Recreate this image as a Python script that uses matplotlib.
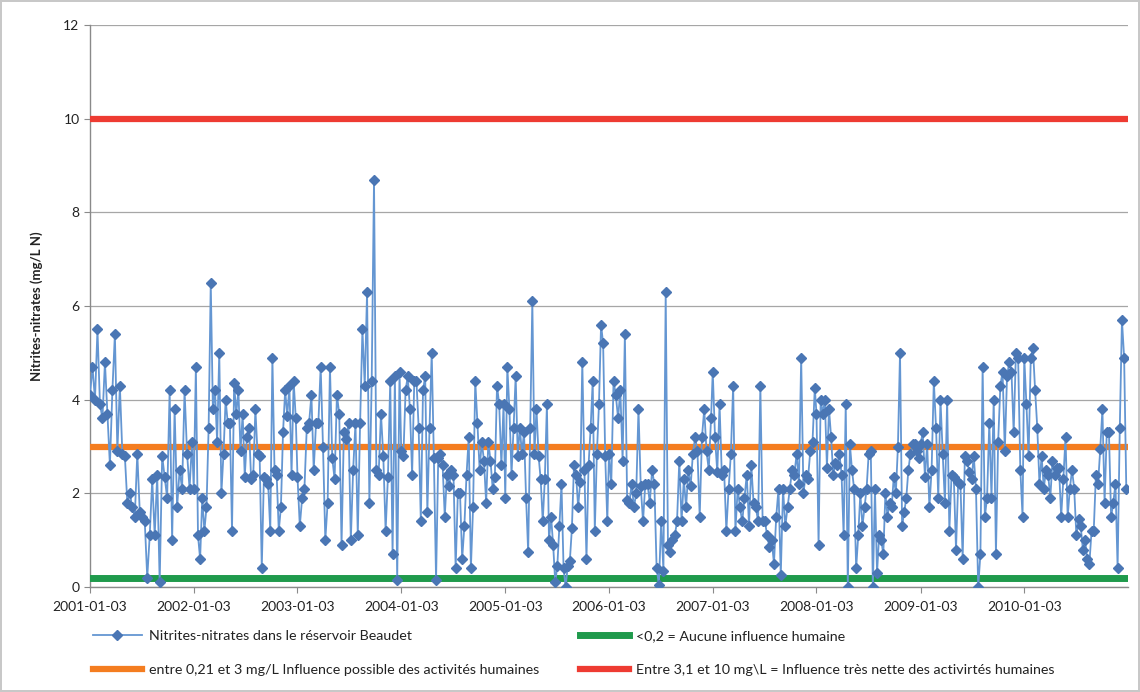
import matplotlib
matplotlib.use("Agg")
import matplotlib.pyplot as plt
from matplotlib.lines import Line2D
import pandas as pd

# Nitrites-nitrates readings (mg/L N), one list per year
nitrates_2001 = [4.1, 4.7, 4.0, 5.5, 3.9, 3.6, 4.8, 3.7, 2.6, 4.2, 5.4, 2.9, 4.3, 2.85,
                 2.8, 1.8, 2.0, 1.7, 1.5, 2.85, 1.6, 1.5, 1.4, 0.2, 1.1, 2.3, 1.1, 2.4,
                 0.1, 2.8, 2.35, 1.9, 4.2, 1.0, 3.8, 1.7, 2.5, 2.1, 4.2, 2.85, 2.1, 3.1]
nitrates_2002 = [2.1, 4.7, 1.1, 0.6, 1.9, 1.2, 1.7, 3.4, 6.5, 3.8, 4.2, 3.1, 5.0, 2.0,
                 2.85, 4.0, 3.5, 3.5, 1.2, 4.35, 3.7, 4.2, 2.9, 3.7, 2.35, 3.2, 3.4, 2.3,
                 2.4, 3.8, 2.85, 2.8, 0.4, 2.35, 2.3, 2.2, 1.2, 4.9, 2.5, 2.4, 1.2, 1.7,
                 3.3, 4.2, 3.65, 4.3, 2.4, 4.4, 3.6]
nitrates_2003 = [2.35, 1.3, 1.9, 2.1, 3.4, 3.5, 4.1, 2.5, 3.5, 3.5, 4.7, 3.0, 1.0, 1.8,
                 4.7, 2.75, 2.3, 4.1, 3.7, 0.9, 3.3, 3.15, 3.5, 1.0, 2.5, 3.5, 1.1, 3.5,
                 5.5, 4.3, 6.3, 1.8, 4.4, 8.7, 2.5, 2.4, 3.7, 2.8, 1.2, 2.35, 4.4, 0.7,
                 4.5, 0.15, 4.6]
nitrates_2004 = [2.9, 2.8, 4.2, 4.5, 3.8, 2.4, 4.4, 4.4, 3.4, 1.4, 4.2, 4.5, 1.6, 3.4,
                 5.0, 2.75, 0.15, 2.75, 2.85, 2.6, 1.5, 2.4, 2.15, 2.5, 2.4, 0.4, 2.0,
                 2.0, 0.6, 1.3, 2.4, 3.2, 0.4, 1.7, 4.4, 3.5, 2.5, 3.1, 2.7, 1.8, 3.1,
                 2.7, 2.1, 2.35, 4.3, 3.9, 2.6, 3.9]
nitrates_2005 = [1.9, 4.7, 3.8, 2.4, 3.4, 4.5, 2.8, 3.4, 2.85, 3.3, 1.9, 0.75, 3.4, 6.1,
                 2.85, 3.8, 2.8, 2.3, 1.4, 2.3, 3.9, 1.0, 1.5, 0.9, 0.1, 0.45, 1.3, 2.2,
                 0.4, 0.0, 0.45, 0.55, 1.25, 2.6, 2.4, 1.7, 2.25, 4.8, 2.5, 0.6, 2.6,
                 3.4, 4.4, 1.2, 2.85, 3.9, 5.6, 5.2, 2.8, 1.4]
nitrates_2006 = [2.85, 2.2, 4.4, 4.1, 3.6, 4.2, 2.7, 5.4, 1.85, 1.8, 2.2, 1.7, 2.0, 3.8,
                 2.15, 1.4, 2.2, 2.2, 1.8, 2.5, 2.2, 0.4, 0.05, 1.4, 0.35, 6.3, 0.9,
                 0.75, 1.0, 1.1, 1.4, 2.7, 1.4, 2.3, 1.7, 2.5, 2.15, 2.85, 3.2, 2.9,
                 1.5, 3.2, 3.8, 2.9, 2.5, 3.6]
nitrates_2007 = [4.6, 3.2, 2.45, 3.9, 2.4, 2.5, 1.2, 2.1, 2.85, 4.3, 1.2, 2.1, 1.7, 1.4,
                 1.9, 2.4, 1.3, 2.6, 1.8, 1.7, 1.4, 4.3, 1.4, 1.4, 1.1, 0.85, 1.0, 0.5,
                 1.5, 2.1, 0.25, 2.1, 1.3, 1.7, 2.1, 2.5, 2.4, 2.85, 2.2, 4.9, 2.0, 2.4,
                 2.3, 2.9, 3.1, 4.25]
nitrates_2008 = [3.7, 0.9, 4.0, 3.7, 4.0, 2.55, 3.8, 3.2, 2.4, 2.65, 2.6, 2.85, 2.4, 1.1,
                 3.9, 0.0, 3.05, 2.5, 2.1, 0.4, 1.1, 2.0, 1.3, 1.7, 2.1, 2.85, 2.9, 0.0,
                 2.1, 0.3, 1.1, 1.0, 0.7, 2.0, 1.5, 1.8, 1.7, 2.35, 2.0, 3.0, 5.0, 1.3,
                 1.6, 1.9, 2.5, 2.85, 3.05, 3.05, 2.9, 2.75]
nitrates_2009 = [3.05, 3.3, 2.35, 3.05, 1.7, 2.5, 4.4, 3.4, 1.9, 4.0, 2.85, 1.8, 4.0, 1.2,
                 2.4, 2.35, 0.8, 2.25, 2.2, 0.6, 2.8, 2.7, 2.45, 2.3, 2.8, 2.1, 0.0, 0.7,
                 4.7, 1.5, 1.9, 3.5, 1.9, 4.0, 0.7, 3.1, 4.3, 4.6, 2.9, 4.5, 4.8, 4.6,
                 3.3, 5.0, 4.9, 2.5, 1.5]
nitrates_2010 = [4.9, 3.9, 2.8, 4.9, 5.1, 4.2, 3.4, 2.2, 2.8, 2.1, 2.5, 2.4, 1.9, 2.7,
                 2.4, 2.55, 2.55, 1.5, 2.3, 3.2, 1.5, 2.1, 2.5, 2.1, 1.1, 1.45, 1.3, 0.8,
                 1.0, 0.6, 0.5, 1.2, 1.2, 2.4, 2.2, 2.95, 3.8, 1.8, 3.3, 3.3, 1.5, 1.8,
                 2.2, 0.4, 3.4, 5.7, 4.9, 2.1]

years = [2001, 2002, 2003, 2004, 2005, 2006, 2007, 2008, 2009, 2010]
yearly_values = [nitrates_2001, nitrates_2002, nitrates_2003, nitrates_2004, nitrates_2005,
                 nitrates_2006, nitrates_2007, nitrates_2008, nitrates_2009, nitrates_2010]

# reference thresholds (mg/L N)
seuil_aucune = 0.2
seuil_possible = 3
seuil_nette = 10

labels = [
    "Nitrites-nitrates dans le réservoir Beaudet",
    "<0,2 = Aucune influence humaine",
    "entre 0,21 et 3 mg/L Influence possible des activités humaines",
    "Entre 3,1 et 10 mg\\L = Influence très nette des activirtés humaines",
]
tick_labels = [f"{y}-01-03" for y in years]

plt.rcParams['font.family'] = ['Lato', 'DejaVu Sans']

# sampling dates spread over each year
dates = []
values = []
for year, vals in zip(years, yearly_values):
    dates.extend(pd.date_range(f"{year}-01-03", f"{year}-12-28", periods=len(vals)))
    values.extend(vals)

fig = plt.figure(figsize=(11.4, 6.92), dpi=100)
fig.patch.set_edgecolor('#c8c8c8')
fig.patch.set_linewidth(1.5)
ax = fig.add_axes([90 / 1140, 1 - 587 / 692, (1128 - 90) / 1140, (587 - 25) / 692])

x_start = pd.Timestamp("2001-01-03")
x_end = pd.Timestamp("2011-01-03")

ax.plot(dates, values, '-', color='#6496d2', linewidth=1.3, marker='D', markersize=5.3,
        markerfacecolor='#4a76b4', markeredgecolor='#4a76b4', zorder=4)
ax.axhline(seuil_aucune, color='#1f9a4c', linewidth=5, zorder=3)
ax.axhline(seuil_possible, color='#f47d20', linewidth=4.5, zorder=3)
ax.axhline(seuil_nette, color='#ee3b32', linewidth=4.5, zorder=3)

ax.set_xlim(x_start, x_end)
ax.set_ylim(0, 12)
ax.set_yticks(range(0, 13, 2))
ax.set_xticks([pd.Timestamp(t) for t in tick_labels])
ax.set_xticklabels(tick_labels)
ax.tick_params(axis='both', labelsize=10, colors='#8a8a8a', labelcolor='#222222', length=4)
ax.tick_params(axis='x', pad=6)
ax.grid(axis='y', color='#a6a6a6', linewidth=0.9)
ax.set_axisbelow(True)
for side in ['top', 'right']:
    ax.spines[side].set_visible(False)
for side in ['left', 'bottom']:
    ax.spines[side].set_color('#8a8a8a')
    ax.spines[side].set_linewidth(1.0)

fig.text(37 / 1140, 1 - 306 / 692, "Nitrites-nitrates (mg/L N)", rotation=90,
         ha='center', va='center', fontsize=9.5, fontweight='bold', color='#222222')

handles = [
    Line2D([], [], color='#6496d2', linewidth=1.3, marker='D', markersize=5.3,
           markerfacecolor='#4a76b4', markeredgecolor='#4a76b4'),
    Line2D([], [], color='#f47d20', linewidth=4.5),
    Line2D([], [], color='#1f9a4c', linewidth=5),
    Line2D([], [], color='#ee3b32', linewidth=4.5),
]
order = [labels[0], labels[2], labels[1], labels[3]]
fig.legend(handles, order, ncol=2, loc='upper left',
           bbox_to_anchor=(80 / 1140, 1 - 617 / 692), frameon=False,
           fontsize=10.3, handlelength=3.4, handletextpad=0.5,
           columnspacing=2.9, labelspacing=1.55, labelcolor='#222222')

fig.savefig("out.png", dpi=100)
